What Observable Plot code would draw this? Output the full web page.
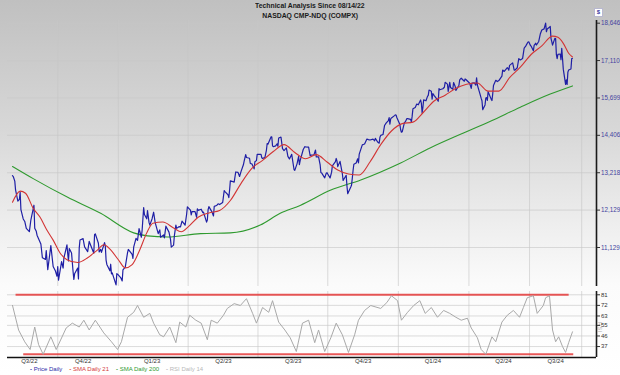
<!DOCTYPE html>
<html><head><meta charset="utf-8">
<script src="https://cdn.jsdelivr.net/npm/d3@7"></script>
<script src="https://cdn.jsdelivr.net/npm/@observablehq/plot@0.6"></script>
<style>
html,body{margin:0;padding:0;background:#fff;}
body{width:620px;height:375px;overflow:hidden;font-family:"Liberation Sans",Arial,sans-serif;}
#wrap{position:relative;width:620px;height:375px;background:linear-gradient(#c0c0c0 0%,#d8d8d8 35%,#eeeeee 60%,#fbfbfb 76%,#fff 100%);}
#title{position:absolute;top:1px;left:0;width:620px;text-align:center;font-weight:bold;font-size:7.6px;line-height:9.5px;color:#1a1a1a;}
#title span{display:inline-block;transform:scaleX(0.9);}
#dollar{position:absolute;left:594px;top:8px;width:7px;height:7px;background:#fff;border:1px solid #b8b8d0;font-size:6px;line-height:7px;text-align:center;color:#3a3aa0;font-weight:bold;}
#legend{position:absolute;left:30px;top:365px;font-size:6px;line-height:8px;white-space:nowrap;}
#legend span{margin-right:7px;}
#rsilab{position:absolute;left:603px;top:322px;font-size:5.5px;color:#b0b0b0;transform:rotate(90deg);transform-origin:left top;letter-spacing:0.5px;}
</style>
</head><body><div id="wrap">
<div id="title"><span>Technical Analysis Since 08/14/22</span><br><span>NASDAQ CMP-NDQ (COMPX)</span></div>
<div id="dollar">$</div>
<div id="legend"></div>
<div id="rsilab">RSI</div>
</div>
<script>
// ---------------- data ----------------
const priceDaily = [
["2022-08-15",13128],["2022-08-16",13103],["2022-08-18",12966],["2022-08-19",12705],["2022-08-22",12381],["2022-08-24",12431],["2022-08-25",12639],["2022-08-26",12141],["2022-08-29",11884],["2022-08-31",11816],
["2022-09-02",11631],["2022-09-06",11545],["2022-09-08",11862],["2022-09-12",12266],["2022-09-13",11634],["2022-09-15",11552],["2022-09-16",11448],["2022-09-21",11220],["2022-09-23",10868],["2022-09-27",10829],["2022-09-28",11052],["2022-09-30",10576],
["2022-10-04",11176],["2022-10-07",10652],["2022-10-10",10542],["2022-10-12",10417],["2022-10-13",10649],["2022-10-14",10321],["2022-10-18",10773],["2022-10-20",10615],["2022-10-21",10860],["2022-10-25",11199],["2022-10-26",10971],["2022-10-27",10792],["2022-10-28",11102],["2022-10-31",10988],
["2022-11-02",10525],["2022-11-03",10343],["2022-11-04",10475],["2022-11-08",10616],["2022-11-09",10353],["2022-11-10",11114],["2022-11-11",11324],["2022-11-15",11359],["2022-11-17",11144],["2022-11-21",11024],["2022-11-23",11285],["2022-11-29",10984],["2022-11-30",11468],
["2022-12-01",11482],["2022-12-05",11240],["2022-12-06",11015],["2022-12-08",11082],["2022-12-09",11005],["2022-12-13",11256],["2022-12-14",11171],["2022-12-15",10811],["2022-12-16",10705],["2022-12-20",10547],["2022-12-21",10709],["2022-12-22",10476],["2022-12-23",10498],["2022-12-28",10213],["2022-12-29",10479],["2022-12-30",10466],
["2023-01-03",10386],["2023-01-05",10305],["2023-01-06",10569],["2023-01-09",10636],["2023-01-12",11001],["2023-01-13",11079],["2023-01-18",10957],["2023-01-19",10852],["2023-01-20",11140],["2023-01-23",11364],["2023-01-25",11313],["2023-01-27",11622],["2023-01-30",11394],["2023-01-31",11584],
["2023-02-02",12201],["2023-02-03",12007],["2023-02-06",11888],["2023-02-07",12114],["2023-02-09",11790],["2023-02-10",11718],["2023-02-13",11892],["2023-02-15",12070],["2023-02-17",11787],["2023-02-21",11492],["2023-02-23",11590],["2023-02-24",11395],["2023-02-28",11456],
["2023-03-01",11380],["2023-03-03",11689],["2023-03-07",11530],["2023-03-09",11338],["2023-03-10",11138],["2023-03-13",11189],["2023-03-14",11429],["2023-03-16",11718],["2023-03-17",11630],["2023-03-20",11675],["2023-03-22",11670],["2023-03-24",11824],["2023-03-28",11716],["2023-03-30",12013],["2023-03-31",12222],
["2023-04-04",12126],["2023-04-05",11996],["2023-04-06",12088],["2023-04-10",12085],["2023-04-12",11930],["2023-04-13",12167],["2023-04-14",12123],["2023-04-18",12154],["2023-04-20",12060],["2023-04-21",12072],["2023-04-25",11799],["2023-04-26",11854],["2023-04-27",12142],["2023-04-28",12227],
["2023-05-02",12080],["2023-05-04",11966],["2023-05-05",12235],["2023-05-08",12257],["2023-05-10",12306],["2023-05-12",12285],["2023-05-16",12344],["2023-05-18",12689],["2023-05-19",12658],["2023-05-23",12560],["2023-05-24",12484],["2023-05-25",12698],["2023-05-26",12976],["2023-05-31",12935],
["2023-06-02",13241],["2023-06-05",13230],["2023-06-07",13104],["2023-06-09",13259],["2023-06-12",13461],["2023-06-13",13573],["2023-06-15",13782],["2023-06-16",13690],["2023-06-20",13667],["2023-06-21",13503],["2023-06-23",13492],["2023-06-26",13336],["2023-06-27",13556],["2023-06-29",13591],["2023-06-30",13788],
["2023-07-05",13792],["2023-07-06",13679],["2023-07-07",13661],["2023-07-10",13685],["2023-07-12",13919],["2023-07-13",14138],["2023-07-14",14114],["2023-07-18",14354],["2023-07-19",14358],["2023-07-20",14063],["2023-07-21",14033],["2023-07-24",14059],["2023-07-26",14127],["2023-07-27",14050],["2023-07-28",14317],["2023-07-31",14346],
["2023-08-02",13973],["2023-08-04",13909],["2023-08-07",13994],["2023-08-09",13723],["2023-08-11",13645],["2023-08-14",13788],["2023-08-17",13317],["2023-08-18",13290],["2023-08-21",13498],["2023-08-23",13722],["2023-08-24",13464],["2023-08-25",13590],["2023-08-29",13943],["2023-08-31",14035],
["2023-09-01",14031],["2023-09-05",14021],["2023-09-07",13748],["2023-09-08",13762],["2023-09-12",13774],["2023-09-14",13926],["2023-09-15",13709],["2023-09-18",13710],["2023-09-20",13469],["2023-09-21",13224],["2023-09-22",13212],["2023-09-26",13064],["2023-09-28",13201],["2023-09-29",13219],
["2023-10-03",13059],["2023-10-05",13236],["2023-10-06",13431],["2023-10-10",13563],["2023-10-11",13659],["2023-10-12",13574],["2023-10-13",13407],["2023-10-16",13568],["2023-10-18",13315],["2023-10-19",13187],["2023-10-20",12984],["2023-10-24",13140],["2023-10-25",12821],["2023-10-26",12595],["2023-10-27",12643],["2023-10-30",12790],["2023-10-31",12851],
["2023-11-01",13061],["2023-11-02",13294],["2023-11-03",13478],["2023-11-06",13518],["2023-11-08",13650],["2023-11-09",13522],["2023-11-10",13798],["2023-11-14",14094],["2023-11-16",14114],["2023-11-17",14125],["2023-11-20",14285],["2023-11-22",14266],["2023-11-24",14251],["2023-11-28",14282],["2023-11-29",14258],["2023-11-30",14226],
["2023-12-01",14306],["2023-12-04",14185],["2023-12-06",14147],["2023-12-07",14340],["2023-12-08",14404],["2023-12-11",14432],["2023-12-13",14734],["2023-12-15",14814],["2023-12-18",14905],["2023-12-19",15003],["2023-12-20",14778],["2023-12-21",14964],["2023-12-22",14993],["2023-12-26",15074],["2023-12-27",15099],["2023-12-28",15096],["2023-12-29",15011],
["2024-01-02",14766],["2024-01-03",14592],["2024-01-04",14510],["2024-01-05",14524],["2024-01-08",14843],["2024-01-09",14858],["2024-01-11",14970],["2024-01-12",14973],["2024-01-16",14944],["2024-01-17",14856],["2024-01-18",15056],["2024-01-19",15311],["2024-01-22",15361],["2024-01-24",15482],["2024-01-26",15455],["2024-01-29",15628],["2024-01-30",15509],["2024-01-31",15164],
["2024-02-01",15361],["2024-02-02",15629],["2024-02-05",15598],["2024-02-07",15756],["2024-02-08",15794],["2024-02-09",15990],["2024-02-12",15943],["2024-02-13",15656],["2024-02-14",15860],["2024-02-16",15776],["2024-02-20",15631],["2024-02-21",15581],["2024-02-22",16041],["2024-02-23",15997],["2024-02-27",16035],["2024-02-29",16092],
["2024-03-01",16275],["2024-03-04",16208],["2024-03-05",15940],["2024-03-07",16273],["2024-03-08",16085],["2024-03-11",16019],["2024-03-12",16266],["2024-03-14",16129],["2024-03-15",15973],["2024-03-19",16167],["2024-03-20",16370],["2024-03-21",16402],["2024-03-22",16429],["2024-03-26",16316],["2024-03-27",16400],["2024-03-28",16379],
["2024-04-02",16241],["2024-04-04",16050],["2024-04-05",16249],["2024-04-08",16253],["2024-04-10",16170],["2024-04-11",16443],["2024-04-12",16175],["2024-04-15",15885],["2024-04-17",15683],["2024-04-18",15601],["2024-04-19",15282],["2024-04-22",15451],["2024-04-23",15697],["2024-04-24",15713],["2024-04-25",15612],["2024-04-26",15928],["2024-04-30",15658],
["2024-05-01",15605],["2024-05-02",15841],["2024-05-03",16156],["2024-05-06",16349],["2024-05-08",16302],["2024-05-10",16341],["2024-05-14",16511],["2024-05-15",16742],["2024-05-17",16686],["2024-05-20",16795],["2024-05-21",16833],["2024-05-22",16802],["2024-05-23",16736],["2024-05-24",16921],["2024-05-28",17019],["2024-05-30",16737],["2024-05-31",16735],
["2024-06-03",16829],["2024-06-05",17187],["2024-06-07",17133],["2024-06-10",17193],["2024-06-12",17608],["2024-06-14",17689],["2024-06-17",17857],["2024-06-18",17862],["2024-06-20",17722],["2024-06-21",17689],["2024-06-24",17497],["2024-06-25",17718],["2024-06-27",17805],["2024-06-28",17733],
["2024-07-01",17879],["2024-07-03",18188],["2024-07-05",18353],["2024-07-08",18403],["2024-07-10",18647],["2024-07-11",18283],["2024-07-12",18398],["2024-07-15",18473],["2024-07-16",18509],["2024-07-17",17996],["2024-07-18",17871],["2024-07-19",17727],["2024-07-22",18008],["2024-07-23",17997],["2024-07-24",17342],["2024-07-25",17182],["2024-07-26",17358],["2024-07-29",17370],["2024-07-30",17147],["2024-07-31",17599],
["2024-08-01",17194],["2024-08-02",16776],["2024-08-05",16200],["2024-08-06",16367],["2024-08-07",16195],["2024-08-08",16660],["2024-08-09",16745],["2024-08-12",16781],["2024-08-13",17188],["2024-08-14",17192]
];
const sma21Daily = [
["2022-08-15",12350],["2022-08-25",12670],["2022-09-01",12610],["2022-09-11",12180],["2022-09-20",11930],["2022-09-29",11580],["2022-10-07",11320],["2022-10-16",10990],["2022-10-25",10820],["2022-11-08",10750],
["2022-11-21",10870],["2022-12-04",11070],["2022-12-12",11200],["2022-12-21",11070],["2022-12-31",10820],["2023-01-09",10620],["2023-01-18",10700],["2023-01-28",11070],["2023-02-06",11510],["2023-02-14",11770],
["2023-02-27",11800],["2023-03-13",11640],["2023-03-23",11540],["2023-04-01",11670],["2023-04-14",11930],["2023-04-28",12050],["2023-05-12",12120],["2023-05-26",12400],["2023-06-09",12900],["2023-06-23",13350],
["2023-07-07",13600],["2023-07-21",13880],["2023-08-04",14100],["2023-08-18",13850],["2023-09-01",13650],["2023-09-15",13780],["2023-09-29",13550],["2023-10-13",13300],["2023-10-27",13180],["2023-11-10",13150],
["2023-11-24",13550],["2023-12-08",14100],["2023-12-22",14550],["2024-01-05",14800],["2024-01-19",14850],["2024-02-02",15200],["2024-02-16",15600],["2024-03-01",15800],["2024-03-15",16050],["2024-03-29",16200],
["2024-04-12",16250],["2024-04-26",15950],["2024-05-10",15950],["2024-05-24",16450],["2024-06-07",16850],["2024-06-21",17350],["2024-07-05",17700],["2024-07-19",18100],["2024-07-26",18050],["2024-08-02",17800],["2024-08-09",17400],["2024-08-14",17250]
];
const sma200Daily = [
["2022-08-15",13410],["2022-09-11",13040],["2022-10-26",12490],["2022-12-08",12040],["2023-01-20",11510],["2023-02-07",11430],["2023-03-05",11400],["2023-04-17",11490],["2023-05-26",11510],["2023-07-04",11720],
["2023-07-30",12040],["2023-08-25",12260],["2023-10-04",12700],["2023-11-12",13000],["2024-01-03",13520],["2024-02-11",14000],["2024-03-21",14440],["2024-04-29",14880],["2024-06-07",15370],["2024-07-16",15840],["2024-08-14",16140]
];
// RSI 14: [days since 2022-08-15, value]
const rsiDaily = [
[0,72],[8,51],[16,41],[23,34.5],[29,53.6],[34,38.7],[40,30.4],[50,45.3],[57,34.5],[70,52.8],[78,56.9],[87,53.6],[93,59.4],[100,51.1],[108,59.4],[119,48.6],[129,41.1],[137,34.5],[142,41.1],[150,61.9],
[158,66.1],[163,71.9],[171,61.9],[179,65.2],[184,56.9],[192,47],[197,45.3],[205,53.6],[213,40.3],[218,57.8],[226,53.6],[231,63.6],[239,59.4],[246,56.9],[254,42.8],[259,59.4],[267,56.9],[275,63.6],[280,69.4],[289,73.5],
[297,71.9],[305,77.7],[313,65.2],[318,56.9],[326,70.2],[334,66.1],[339,76],[347,57.8],[355,51.1],[362,44.5],[370,32.8],[378,56.9],[386,59.4],[394,40.3],[399,51.1],[407,32.8],[415,44.5],[422,56.9],[430,47],[438,32],
[446,47],[451,59.4],[459,67.7],[467,71.9],[480,69.4],[488,74.4],[494,80.2],[502,76],[507,59.4],[515,66.1],[523,71.9],[531,76],[538,65.2],[546,70.2],[554,61.9],[562,67.7],[570,65.2],[578,61.9],[585,59.4],[593,61.1],
[598,52.8],[606,44.5],[611,34.5],[617,30.4],[625,45.3],[630,41.1],[638,57.8],[645,63.6],[653,67.7],[661,61.9],[666,70.2],[671,78.5],[679,80.2],[684,65.2],[692,71.9],[695,78.5],[700,80.2],[704,51.1],[708,41.1],[712,45.3],
[717,37],[721,32],[725,40.3],[730,49.5]
];
// RSI trend bands: [start day, end day, level]
const rsiBands = [[4,725,81],[14,731,30.4]];
const priceTicks = [11129,12129,13218,14406,15699,17110,18646];
const rsiTicks = [37,46,55,63,72,81];
const quarterLabels = ["Q3/22","Q4/22","Q1/23","Q2/23","Q3/23","Q4/23","Q1/24","Q2/24","Q3/24"];
const quarterLabelDates = ["2022-09-06","2022-11-15","2023-02-13","2023-05-17","2023-08-16","2023-11-15","2024-02-14","2024-05-16","2024-07-23"];
const gridDates = ["2022-10-13","2022-12-31","2023-04-01","2023-07-01","2023-09-30","2023-12-31","2024-04-01","2024-06-19","2024-08-26"];
const legendItems = [["Price Daily","#2a2aa8"],["SMA Daily 21","#d43a3a"],["SMA Daily 200","#2f9a2f"],["RSI Daily 14","#b8b8b8"]];

// ---------------- build ----------------
const DAY = 864e5, t0 = Date.UTC(2022,7,15);
const pd = s => new Date(s + "T00:00:00Z");
const xDomain = [new Date(t0 - 6.5*DAY), new Date(t0 + 761.3*DAY)];
const price = priceDaily.map(([d,v]) => ({date: pd(d), value: v}));
const sma21 = sma21Daily.map(([d,v]) => ({date: pd(d), value: v}));
const sma200 = sma200Daily.map(([d,v]) => ({date: pd(d), value: v}));
const rsi = rsiDaily.map(([d,v]) => ({date: new Date(t0 + d*DAY), value: v}));
const bands = rsiBands.map(([a,b,l]) => ({x1: new Date(t0 + a*DAY), x2: new Date(t0 + b*DAY), level: l}));
const grid = gridDates.map(pd);
const labelMap = new Map(quarterLabelDates.map((d,i) => [+pd(d), quarterLabels[i]]));
const font = "'Liberation Sans', Arial, sans-serif";
const gridStyle = {stroke: "#c8c8c8", strokeWidth: 0.7, strokeOpacity: 0.9};

const main = Plot.plot({
  width: 620, height: 290, marginLeft: 7, marginRight: 24, marginTop: 20, marginBottom: 4,
  style: {position: "absolute", left: "0px", top: "0px", background: "transparent", overflow: "visible", fontFamily: font},
  x: {type: "utc", domain: xDomain, axis: null},
  y: {type: "log", domain: [10174, 18762], axis: null},
  marks: [
    Plot.ruleY(priceTicks, gridStyle),
    Plot.ruleX(grid, gridStyle),
    Plot.line(sma200, {x: "date", y: "value", stroke: "#2f9a2f", strokeWidth: 1.1, curve: "monotone-x"}),
    Plot.line(price, {x: "date", y: "value", stroke: "#1f1fa5", strokeWidth: 1.2}),
    Plot.line(sma21, {x: "date", y: "value", stroke: "#d23434", strokeWidth: 1.1, curve: "monotone-x"}),
    Plot.ruleX([xDomain[1]], {stroke: "#1a1a1a", strokeWidth: 1.6}),
    Plot.axisY(priceTicks, {anchor: "right", tickSize: 3, tickPadding: 1.5, tickFormat: d3.format(","), fontSize: 6.3, fill: "#4545a0", stroke: "#333", label: null})
  ]
});
const lower = Plot.plot({
  width: 620, height: 87, marginLeft: 7, marginRight: 24, marginTop: 3, marginBottom: 18,
  style: {position: "absolute", left: "0px", top: "288px", background: "transparent", overflow: "visible", fontFamily: font},
  x: {type: "utc", domain: xDomain, axis: null},
  y: {domain: [27.7, 83.8], axis: null},
  marks: [
    Plot.ruleY(rsiTicks, gridStyle),
    Plot.ruleX(grid, gridStyle),
    Plot.link(bands, {x1: "x1", x2: "x2", y1: "level", y2: "level", stroke: "#e53b3b", strokeWidth: 2, strokeOpacity: 0.85}),
    Plot.line(rsi, {x: "date", y: "value", stroke: "#a9a9a9", strokeWidth: 1}),
    Plot.ruleY([27.7], {stroke: "#111", strokeWidth: 1.6}),
    Plot.ruleX([xDomain[1]], {stroke: "#1a1a1a", strokeWidth: 1.6}),
    Plot.axisY(rsiTicks, {anchor: "right", tickSize: 3, tickPadding: 1.5, fontSize: 6, fill: "#333", stroke: "#333", label: null}),
    Plot.axisX(quarterLabelDates.map(pd), {anchor: "bottom", tickSize: 0, tickPadding: 1.5, fontSize: 6, fill: "#333", tickFormat: d => labelMap.get(+d), label: null})
  ]
});
const wrap = document.getElementById("wrap");
wrap.appendChild(main);
wrap.appendChild(lower);
document.getElementById("legend").innerHTML = legendItems.map(([t,c]) =>
  `<span style="color:${c}"><b>-</b> ${t}</span>`).join("");
</script>
</body></html>
